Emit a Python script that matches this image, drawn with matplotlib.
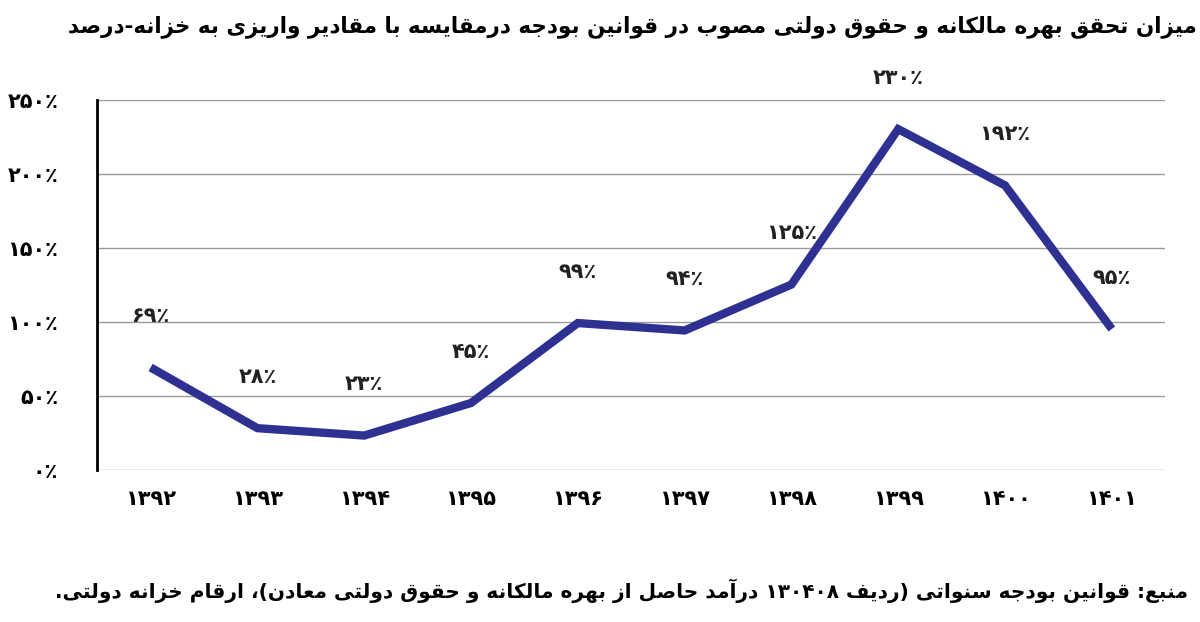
import matplotlib
matplotlib.use("Agg")
import matplotlib.pyplot as plt

years = ["۱۳۹۲", "۱۳۹۳", "۱۳۹۴", "۱۳۹۵", "۱۳۹۶", "۱۳۹۷", "۱۳۹۸", "۱۳۹۹", "۱۴۰۰", "۱۴۰۱"]
values = [69, 28, 23, 45, 99, 94, 125, 230, 192, 95]
point_labels = ["۶۹٪", "۲۸٪", "۲۳٪", "۴۵٪", "۹۹٪", "۹۴٪", "۱۲۵٪", "۲۳۰٪", "۱۹۲٪", "۹۵٪"]
yticks = [0, 50, 100, 150, 200, 250]
ytick_labels = ["۰٪", "۵۰٪", "۱۰۰٪", "۱۵۰٪", "۲۰۰٪", "۲۵۰٪"]
title = "میزان تحقق بهره مالکانه و حقوق دولتی مصوب در قوانین بودجه درمقایسه با مقادیر واریزی به خزانه-درصد"
source = "منبع: قوانین بودجه سنواتی (ردیف ۱۳۰۴۰۸ درآمد حاصل از بهره مالکانه و حقوق دولتی معادن)، ارقام خزانه دولتی."

# minimal arabic shaping: letter -> (isolated, final, initial, medial)
FORMS = {
    "ا": ("\uFE8D", "\uFE8E", None, None), "آ": ("\uFE81", "\uFE82", None, None),
    "ب": ("\uFE8F", "\uFE90", "\uFE91", "\uFE92"), "پ": ("\uFB56", "\uFB57", "\uFB58", "\uFB59"),
    "ت": ("\uFE95", "\uFE96", "\uFE97", "\uFE98"), "ث": ("\uFE99", "\uFE9A", "\uFE9B", "\uFE9C"),
    "ج": ("\uFE9D", "\uFE9E", "\uFE9F", "\uFEA0"), "چ": ("\uFB7A", "\uFB7B", "\uFB7C", "\uFB7D"),
    "ح": ("\uFEA1", "\uFEA2", "\uFEA3", "\uFEA4"), "خ": ("\uFEA5", "\uFEA6", "\uFEA7", "\uFEA8"),
    "د": ("\uFEA9", "\uFEAA", None, None), "ذ": ("\uFEAB", "\uFEAC", None, None),
    "ر": ("\uFEAD", "\uFEAE", None, None), "ز": ("\uFEAF", "\uFEB0", None, None),
    "ژ": ("\uFB8A", "\uFB8B", None, None), "و": ("\uFEED", "\uFEEE", None, None),
    "س": ("\uFEB1", "\uFEB2", "\uFEB3", "\uFEB4"), "ش": ("\uFEB5", "\uFEB6", "\uFEB7", "\uFEB8"),
    "ص": ("\uFEB9", "\uFEBA", "\uFEBB", "\uFEBC"), "ض": ("\uFEBD", "\uFEBE", "\uFEBF", "\uFEC0"),
    "ط": ("\uFEC1", "\uFEC2", "\uFEC3", "\uFEC4"), "ظ": ("\uFEC5", "\uFEC6", "\uFEC7", "\uFEC8"),
    "ع": ("\uFEC9", "\uFECA", "\uFECB", "\uFECC"), "غ": ("\uFECD", "\uFECE", "\uFECF", "\uFED0"),
    "ف": ("\uFED1", "\uFED2", "\uFED3", "\uFED4"), "ق": ("\uFED5", "\uFED6", "\uFED7", "\uFED8"),
    "ک": ("\uFB8E", "\uFB8F", "\uFB90", "\uFB91"), "گ": ("\uFB92", "\uFB93", "\uFB94", "\uFB95"),
    "ل": ("\uFEDD", "\uFEDE", "\uFEDF", "\uFEE0"), "م": ("\uFEE1", "\uFEE2", "\uFEE3", "\uFEE4"),
    "ن": ("\uFEE5", "\uFEE6", "\uFEE7", "\uFEE8"), "ه": ("\uFEE9", "\uFEEA", "\uFEEB", "\uFEEC"),
    "ی": ("\uFBFC", "\uFBFD", "\uFBFE", "\uFBFF"),
}


def shape(text):
    out = []
    for i, ch in enumerate(text):
        if ch not in FORMS:
            out.append(ch)
            continue
        prev = text[i - 1] if i > 0 else ""
        nxt = text[i + 1] if i + 1 < len(text) else ""
        join_prev = prev in FORMS and FORMS[prev][2] is not None
        join_next = nxt in FORMS and FORMS[ch][2] is not None
        iso, fin, ini, med = FORMS[ch]
        if join_prev and join_next:
            out.append(med)
        elif join_prev:
            out.append(fin)
        elif join_next:
            out.append(ini)
        else:
            out.append(iso)
    s = "".join(out)[::-1]
    # keep digit runs left-to-right, fix mirrored brackets
    res, run = [], ""
    for ch in s:
        if "\u06F0" <= ch <= "\u06F9":
            run += ch
        else:
            if run:
                res.append(run[::-1])
                run = ""
            res.append({"(": ")", ")": "("}.get(ch, ch))
    if run:
        res.append(run[::-1])
    return "".join(res)


plt.rcParams["font.family"] = ["DejaVu Sans"]
fig = plt.figure(figsize=(12, 6.22), dpi=100)
ax = fig.add_axes([0.081, 0.245, 0.89, 0.595])

x = list(range(len(years)))
ax.plot(x, values, color="#2e3192", linewidth=6, solid_capstyle="butt", solid_joinstyle="miter")
for xi, v, lab in zip(x, values, point_labels):
    ax.text(xi, v + 28, lab, ha="center", va="bottom", fontsize=15, fontweight="bold", color="#222")

ax.set_xlim(-0.5, len(years) - 0.5)
ax.set_ylim(0, 250)
ax.set_yticks(yticks)
ax.set_yticklabels(ytick_labels, fontsize=15, fontweight="bold")
ax.set_xticks(x)
ax.set_xticklabels(years, fontsize=15, fontweight="bold")
ax.tick_params(length=0, pad=14)
ax.tick_params(axis="y", pad=28)
ax.grid(axis="y", color="#9a9a9a", linewidth=1)
ax.set_axisbelow(True)
for side in ("top", "right", "bottom"):
    ax.spines[side].set_visible(False)
ax.spines["left"].set_linewidth(2)

fig.text(0.997, 0.975, shape(title), ha="right", va="top", fontsize=15.5, fontweight="bold")
fig.text(0.99, 0.03, shape(source), ha="right", va="bottom", fontsize=14.5, fontweight="bold")

fig.savefig("out.png", dpi=100)
